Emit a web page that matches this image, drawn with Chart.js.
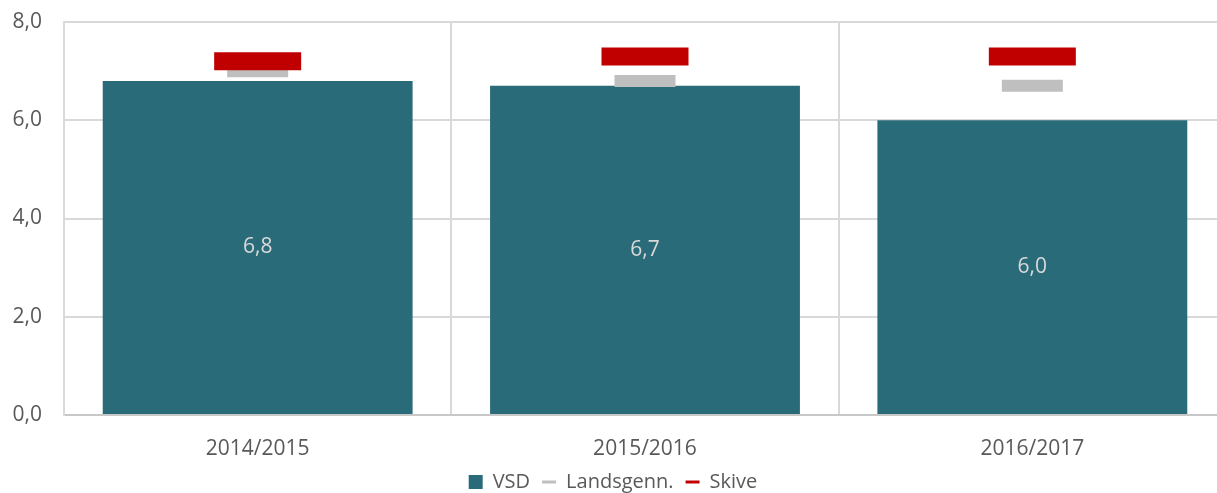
<!DOCTYPE html>
<html>
<head>
<meta charset="utf-8">
<script src="https://cdn.jsdelivr.net/npm/chart.js@4"></script>
<style>
  html, body { margin: 0; padding: 0; background: #fff; overflow: hidden; }
  #wrap { width: 1228px; height: 493px; position: relative; }
</style>
</head>
<body>
<div id="wrap"><canvas id="c"></canvas></div>
<script>
const categories = ['2014/2015', '2015/2016', '2016/2017'];
const vsdValues = [6.8, 6.7, 6.0];
const landsgennValues = [7.0, 6.8, 6.7];
const skiveValues = [7.2, 7.3, 7.3];
const seriesNames = ['VSD', 'Landsgenn.', 'Skive'];
const yTicks = [0, 2, 4, 6, 8];

const FONT = "'Open Sans', sans-serif";
const fmt = v => v.toFixed(1).replace('.', ',');

const dataLabels = {
  id: 'dataLabels',
  afterDatasetsDraw(chart) {
    const meta = chart.getDatasetMeta(0);
    const ctx = chart.ctx;
    ctx.save();
    ctx.font = "21px " + FONT;
    ctx.fillStyle = '#D9D9D9';
    ctx.textAlign = 'center';
    ctx.textBaseline = 'middle';
    meta.data.forEach((bar, i) => {
      const y = (bar.y + bar.base) / 2;
      ctx.fillText(fmt(vsdValues[i]), bar.x, y);
    });
    ctx.restore();
  }
};

new Chart(document.getElementById('c'), {
  type: 'bar',
  data: {
    labels: categories,
    datasets: [
      {
        label: seriesNames[0], data: vsdValues, backgroundColor: '#2A6B7A',
        categoryPercentage: 1.0, barPercentage: 0.8, order: 3
      },
      {
        type: 'line', label: seriesNames[1], data: landsgennValues, showLine: false,
        pointStyle: 'line', pointRadius: 30.5, pointHoverRadius: 30.5,
        pointBorderWidth: 12, pointHoverBorderWidth: 12,
        borderColor: '#BFBFBF', backgroundColor: '#BFBFBF', order: 2, clip: false
      },
      {
        type: 'line', label: seriesNames[2], data: skiveValues, showLine: false,
        pointStyle: 'line', pointRadius: 43.5, pointHoverRadius: 43.5,
        pointBorderWidth: 18, pointHoverBorderWidth: 18,
        borderColor: '#C00000', backgroundColor: '#C00000', order: 1, clip: false
      }
    ]
  },
  options: {
    responsive: true,
    maintainAspectRatio: false,
    animation: false,
    layout: { autoPadding: false, padding: { top: 22, right: 2, left: 0, bottom: 0 } },
    plugins: {
      tooltip: { enabled: false },
      legend: {
        position: 'bottom',
        maxHeight: 33,
        labels: {
          font: { family: FONT, size: 20 },
          color: '#595959',
          usePointStyle: true,
          boxWidth: 14, boxHeight: 14, pointStyleWidth: 14,
          padding: 12,
          generateLabels(chart) {
            return [
              { text: seriesNames[0], pointStyle: 'rect', fillStyle: '#2A6B7A', strokeStyle: '#2A6B7A', lineWidth: 0, datasetIndex: 0, fontColor: '#595959' },
              { text: seriesNames[1], pointStyle: 'line', fillStyle: '#BFBFBF', strokeStyle: '#BFBFBF', lineWidth: 3, datasetIndex: 1, fontColor: '#595959' },
              { text: seriesNames[2], pointStyle: 'line', fillStyle: '#C00000', strokeStyle: '#C00000', lineWidth: 3, datasetIndex: 2, fontColor: '#595959' }
            ];
          }
        }
      }
    },
    scales: {
      x: {
        offset: true,
        grid: { display: true, offset: true, color: '#D9D9D9', lineWidth: 2, drawTicks: false },
        border: { display: true, color: '#C8C8C8', width: 2 },
        ticks: { font: { family: FONT, size: 21 }, color: '#595959', padding: 21 },
        afterFit(scale) {
          scale.height = 45;
          scale.paddingLeft = 0; scale.paddingRight = 0;
          scale.paddingTop = 0; scale.paddingBottom = 0;
        }
      },
      y: {
        min: 0, max: 8,
        afterBuildTicks(scale) { scale.ticks = yTicks.map(v => ({ value: v })); },
        grid: { color: '#D9D9D9', lineWidth: 2, drawTicks: false },
        border: { display: true, color: '#D9D9D9', width: 2 },
        ticks: { font: { family: FONT, size: 21 }, color: '#595959', padding: 22, callback: v => fmt(v) },
        afterFit(scale) {
          scale.width = 64;
          scale.paddingTop = 0; scale.paddingBottom = 0;
          scale.paddingLeft = 0; scale.paddingRight = 0;
        }
      }
    }
  },
  plugins: [dataLabels]
});
</script>
</body>
</html>
